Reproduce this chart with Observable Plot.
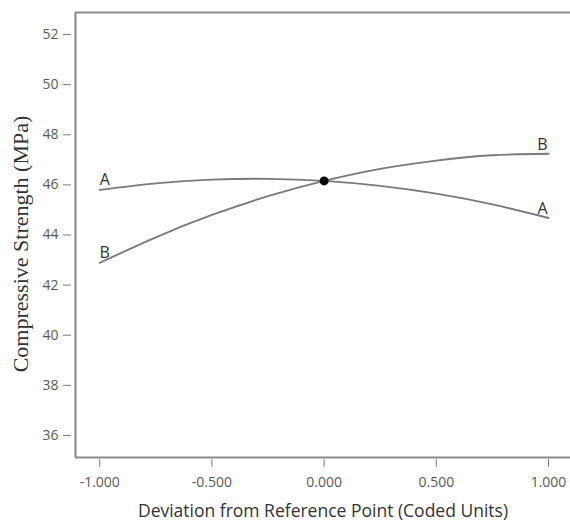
<!DOCTYPE html>
<html>
<head>
<meta charset="utf-8">
<script src="https://cdn.jsdelivr.net/npm/d3@7"></script>
<script src="https://cdn.jsdelivr.net/npm/@observablehq/plot@0.6"></script>
<style>
  html, body { margin: 0; padding: 0; background: #fff; }
  #chart svg { display: block; }
</style>
</head>
<body>
<div id="chart"></div>
<script>
// Perturbation plot: compressive strength vs. deviation of each factor from the reference point
const deviation = [-1, -0.75, -0.5, -0.25, 0, 0.25, 0.5, 0.75, 1];
const strengthA = [45.80, 46.06, 46.21, 46.24, 46.16, 45.96, 45.65, 45.22, 44.68];
const strengthB = [42.89, 43.91, 44.80, 45.55, 46.16, 46.64, 46.97, 47.18, 47.24];
const factors = ["A", "B"];
const referenceDeviation = 0;
const referenceStrength = 46.16;

const xTicks = [-1, -0.5, 0, 0.5, 1];
const yTicks = [36, 38, 40, 42, 44, 46, 48, 50, 52];
const xDomain = [-1.108, 1.098];
const yDomain = [35.12, 52.88];

const xTitle = "Deviation from Reference Point (Coded Units)";
const yTitle = "Compressive Strength (MPa)";

// Long table of curve points, one row per (factor, deviation)
const series = {A: strengthA, B: strengthB};
const rows = factors.flatMap(f => deviation.map((d, i) => ({factor: f, dev: d, strength: series[f][i]})));

// Factor letters at both ends of each curve
const endLabels = factors.flatMap(f => [
  {factor: f, dev: deviation[0], strength: series[f][0], side: "left"},
  {factor: f, dev: deviation[deviation.length - 1], strength: series[f][deviation.length - 1], side: "right"}
]);

const frameColor = "#8c8c8c";
const curveColor = "#7a7a7a";
const tickTextColor = "#5a5a5a";

const chart = Plot.plot({
  width: 570,
  height: 529,
  marginTop: 12,
  marginBottom: 72,
  marginLeft: 75,
  marginRight: 0,
  style: {fontFamily: "'Open Sans', sans-serif", background: "#fff"},
  x: {domain: xDomain, axis: null},
  y: {domain: yDomain, axis: null},
  marks: [
    // frame: left, top and bottom edges
    Plot.ruleX([xDomain[0]], {stroke: frameColor, strokeWidth: 2.2}),
    Plot.ruleY(yDomain, {stroke: frameColor, strokeWidth: 2.2}),
    Plot.axisY({
      ticks: yTicks, tickSize: 8, tickPadding: 5, dx: -4,
      stroke: curveColor, color: tickTextColor, fontSize: 14,
      tickFormat: d => String(d), label: null
    }),
    Plot.axisX({
      ticks: xTicks, tickSize: 8, tickPadding: 10, dy: 2,
      stroke: curveColor, color: tickTextColor, fontSize: 14,
      tickFormat: d => d.toFixed(3), label: null
    }),
    Plot.line(rows, {
      x: "dev", y: "strength", z: "factor",
      stroke: curveColor, strokeWidth: 1.9, curve: "natural"
    }),
    Plot.text(endLabels.filter(d => d.side === "left"), {
      x: "dev", y: "strength", text: "factor",
      dx: 5, dy: -10, fontSize: 16, fill: "#333"
    }),
    Plot.text(endLabels.filter(d => d.side === "right"), {
      x: "dev", y: "strength", text: "factor",
      dx: -6, dy: -9, fontSize: 16, fill: "#333"
    }),
    Plot.dot([{dev: referenceDeviation, strength: referenceStrength}], {
      x: "dev", y: "strength", r: 4.5, fill: "#000", stroke: "none"
    }),
    // axis titles
    Plot.text([xTitle], {
      frameAnchor: "bottom", text: d => d, dy: 59, fontSize: 17.5, fill: "#333"
    }),
    Plot.text([yTitle], {
      frameAnchor: "left", textAnchor: "middle", text: d => d, rotate: -90, dx: -55, dy: 9,
      fontSize: 22, fill: "#333", fontFamily: "'Liberation Serif', serif"
    })
  ]
});

document.getElementById("chart").appendChild(chart);
</script>
</body>
</html>
